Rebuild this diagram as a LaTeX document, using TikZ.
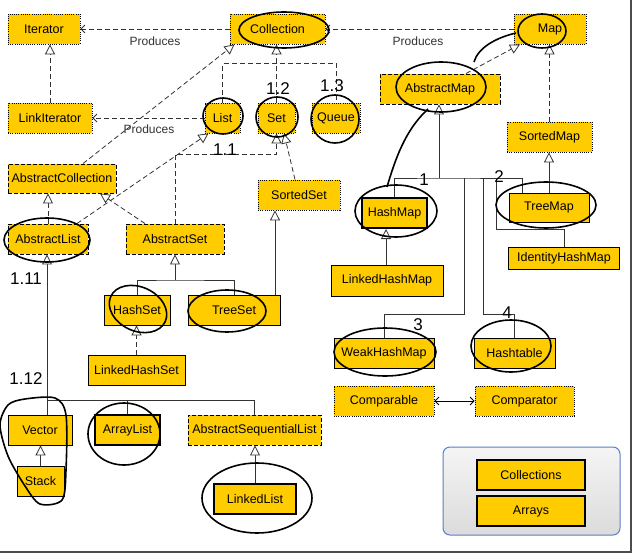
\documentclass[tikz,border=0pt]{standalone}
\usepackage{fontspec}
\setmainfont{Liberation Sans}
\usetikzlibrary{arrows.meta,shapes.geometric}
\definecolor{boxy}{HTML}{FFCC00}
\definecolor{lineg}{HTML}{333333}
\definecolor{grpblue}{HTML}{5A7EC8}
\begin{document}
\begin{tikzpicture}[x=1pt,y=-1pt,
  box/.style={fill=boxy, minimum height=30pt, inner sep=0pt, font=\fontsize{12.5}{13}\selectfont, text=black},
  dotbox/.style={box, draw=black, line width=0.8pt, dash pattern=on 0.8pt off 1.4pt},
  dashbox/.style={box, draw=black, line width=0.9pt, dash pattern=on 4pt off 2pt},
  solbox/.style={box, draw=black, line width=0.8pt},
  thkbox/.style={box, draw=black, line width=2pt},
  dep/.style={draw=lineg, line width=0.8pt, dash pattern=on 5pt off 3pt},
  sol/.style={draw=lineg, line width=0.8pt},
  gen/.style={-{Triangle[open, length=10pt, width=10pt, fill=white]}},
  prod/.style={-{Straight Barb[length=4pt, width=8pt]}},
  lbl/.style={font=\fontsize{12}{12}\selectfont, text=lineg},
  hand/.style={draw=black, line width=1.6pt},
  handtxt/.style={font=\fontsize{17}{17}\selectfont, text=black},
]
\useasboundingbox (0,0) rectangle (636,556);
\fill[white] (0,0) rectangle (636,556);
% frame
\draw[gray!60!black, line width=1.5pt] (631,0) -- (631,552) -- (0,552);

% group box
\node[draw=grpblue, rounded corners=7pt, line width=1pt, top color=gray!8, bottom color=gray!28, minimum width=177pt, minimum height=88pt, inner sep=0pt] (grp) at (531.5,491) {};

% nodes
\node[dotbox, minimum width=72pt] (iter) at (44,29) {Iterator};
\node[dotbox, minimum width=95pt] (coll) at (277.5,29) {Collection};
\node[dotbox, minimum width=72pt] (map) at (550,29) {Map};
\node[dotbox, minimum width=84pt] (liter) at (50,118) {LinkIterator};
\node[dotbox, minimum width=35pt] (list) at (222.5,118) {List};
\node[dotbox, minimum width=37pt] (set) at (276.5,118) {Set};
\node[dotbox, minimum width=48pt] (queue) at (336,118) {Queue};
\node[dashbox, minimum width=108pt, minimum height=29pt] (acoll) at (62,178.5) {AbstractCollection};
\node[dotbox, minimum width=82pt] (sset) at (299,195) {SortedSet};
\node[dashbox, minimum width=80pt] (alist) at (48,239) {AbstractList};
\node[dashbox, minimum width=98pt] (aset) at (175,239) {AbstractSet};
\node[solbox, minimum width=66pt] (hset) at (137,310) {HashSet};
\node[solbox, minimum width=92pt] (tset) at (234,310) {TreeSet};
\node[solbox, minimum width=97pt] (lhset) at (136.5,370) {LinkedHashSet};
\node[solbox, minimum width=64pt] (vec) at (40,430) {Vector};
\node[thkbox, minimum width=65pt] (alst) at (127.5,430) {ArrayList};
\node[dashbox, minimum width=133pt] (asl) at (254.5,430) {AbstractSequentialList};
\node[solbox, minimum width=47pt] (stack) at (40.5,481) {Stack};
\node[thkbox, minimum width=82pt] (llist) at (255,499) {LinkedList};
\node[dashbox, minimum width=120pt] (amap) at (440,89) {AbstractMap};
\node[dotbox, minimum width=85pt] (smap) at (549.5,137) {SortedMap};
\node[thkbox, minimum width=65pt] (hmap) at (394.5,213) {HashMap};
\node[solbox, minimum width=80pt, minimum height=29pt] (tmap) at (549,207.5) {TreeMap};
\node[solbox, minimum width=111pt, minimum height=22pt] (ihmap) at (564,258) {IdentityHashMap};
\node[solbox, minimum width=112pt, minimum height=31pt] (lhmap) at (387,280.5) {LinkedHashMap};
\node[solbox, minimum width=100pt] (whmap) at (384,353) {WeakHashMap};
\node[solbox, minimum width=81pt] (htab) at (514.5,353) {Hashtable};
\node[dotbox, minimum width=100pt] (cmpb) at (384,401) {Comparable};
\node[dotbox, minimum width=99pt] (cmpt) at (524.5,401) {Comparator};
\node[solbox, line width=1.2pt, minimum width=108pt] (colls) at (531,475) {Collections};
\node[solbox, line width=1.2pt, minimum width=108pt] (arrs) at (531,511) {Arrays};

% junction coordinates
\coordinate (j1) at (175,280);
\coordinate (j2) at (47,400);
\coordinate (j3) at (439,178);
\coordinate (b1) at (464,178);
\coordinate (b2) at (483,178);
\coordinate (b3) at (496,178);

% Produces
\draw[dep, prod] (coll.west) -- (iter.east);
\draw[dep, prod] (map.west) -- (coll.east);
\draw[dep, prod] (list.west) -- (liter.east);
\node[lbl] (p1) at (155,41) {Produces};
\node[lbl] (p2) at (418,41) {Produces};
\node[lbl] (p3) at (149,129) {Produces};

% interface hierarchy
\draw[dep, gen] (liter.north) -- (liter.north |- iter.south);
\draw[dep] (list.north) -- ++(0,-39) -| (queue.north);
\draw[dep, gen] (set.north) -- (set.north |- coll.south);
\draw[dep, gen] ([xshift=21pt]acoll.north) -- ([xshift=-43pt]coll.south);
\draw[dep, gen] (alist.north) -- (alist.north |- acoll.south);
\draw[dep, gen] ([xshift=29pt]alist.north) -- ([xshift=-14pt]list.south);
\draw[dep, gen] ([xshift=-30pt]aset.north) -- ([xshift=38pt]acoll.south);
\draw[dep, gen] (aset.north) -- ++(0,-69) -| (set.south);
\draw[dep, gen] ([xshift=-4pt]sset.north) -- ([xshift=7.5pt]set.south);

% set implementations
\draw[sol] (hset.north) |- (j1) -| (tset.north);
\draw[sol, gen] (j1) -- (aset.south);
\draw[sol, gen] ([xshift=41pt]tset.north) -- ([xshift=41pt]tset.north |- sset.south);
\draw[dep, gen] (lhset.north) -- (lhset.north |- hset.south);

% list implementations
\draw[sol, gen] (j2) -- (j2 |- alist.south);
\draw[sol] (j2 |- vec.north) -- (j2) -| (asl.north);
\draw[sol] (alst.north) -- (alst.north |- j2);
\draw[sol, gen] (stack.north) -- (stack.north |- vec.south);
\draw[sol, gen] (llist.north) -- (llist.north |- asl.south);

% map hierarchy
\draw[dep, gen] ([xshift=26pt]amap.north) -- ([xshift=-30pt]map.south);
\draw[dep, gen] (smap.north) -- (smap.north |- map.south);
\draw[sol, gen] (j3) -- (j3 |- amap.south);
\draw[sol] (hmap.north) |- (j3) -| ([xshift=-27pt]tmap.north);
\draw[sol] (b1) |- ([yshift=23pt]whmap.north) -- (whmap.north);
\draw[sol] (b2) |- ([yshift=23pt]htab.north) -- (htab.north);
\draw[sol] (b3) |- ([yshift=17pt]ihmap.north) -- (ihmap.north);
\draw[sol, gen] (tmap.north) -- (tmap.north |- smap.south);
\draw[sol, gen] ([xshift=-1pt]lhmap.north) -- ([xshift=-1pt]lhmap.north |- hmap.south);

% comparable <-> comparator
\draw[black, line width=0.8pt, {Straight Barb[length=4pt, width=8pt]}-{Straight Barb[length=4pt, width=8pt]}] (cmpb.east) -- (cmpt.west);

% hand-drawn annotations
\draw[hand] (284,30) ellipse (45 and 18);
\draw[hand] (542,31) ellipse (24 and 17);
\draw[hand] (516,33) .. controls (495,38) and (478,48) .. (474,62);
\draw[hand] (441,87) ellipse (45 and 25);
\draw[hand] (428,109) .. controls (405,130) and (395,160) .. (387,187);
\draw[hand] (396,211) ellipse (41 and 26);
\draw[hand] (546,205) ellipse (50 and 23);
\draw[hand] (385,352) ellipse (51 and 24);
\draw[hand] (511,346) ellipse (40 and 26);
\draw[hand] (223,116) ellipse (20 and 18);
\draw[hand] (277,117) ellipse (21 and 20);
\draw[hand] (335,119) ellipse (24 and 24);
\draw[hand] (47,240) ellipse (43 and 22);
\draw[hand, rotate around={-25:(138,309)}] (138,309) ellipse (30 and 22);
\draw[hand] (227,311) ellipse (39 and 21);
\draw[hand] plot[smooth cycle] coordinates {(25,399) (55,398) (66,415) (66,470) (62,500) (40,504) (25,486) (8,456) (0,425) (8,405)};
\draw[hand] (124,434) ellipse (36 and 31);
\draw[hand] (257,498) ellipse (55 and 35);

\node[handtxt] (h1) at (278,89) {1.2};
\node[handtxt] (h2) at (332,86) {1.3};
\node[handtxt] (h3) at (225,150) {1.1};
\node[handtxt] (h4) at (26,279) {1.11};
\node[handtxt] (h5) at (26,379) {1.12};
\node[handtxt] (h6) at (424,180) {1};
\node[handtxt] (h7) at (499,177) {2};
\node[handtxt] (h8) at (418,325) {3};
\node[handtxt] (h9) at (507,313) {4};
\end{tikzpicture}
\end{document}
